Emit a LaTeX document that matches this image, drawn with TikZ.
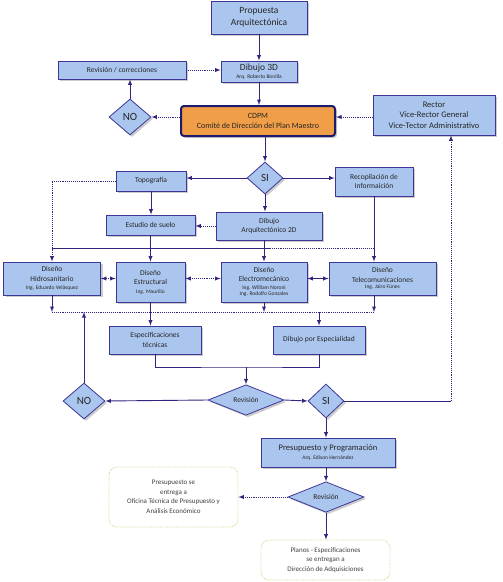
\documentclass[tikz,border=0pt]{standalone}
\usepackage{fontspec}
\setmainfont{Carlito}
\usetikzlibrary{shapes,arrows,positioning,shadows,calc}
\definecolor{boxblue}{RGB}{170,198,238}
\definecolor{boxline}{RGB}{62,54,150}
\definecolor{flowline}{RGB}{52,36,128}
\definecolor{cdpmorange}{RGB}{240,158,72}
\definecolor{cdpmline}{RGB}{30,26,110}
\definecolor{noteline}{RGB}{196,220,140}
\tikzstyle{Block} = [draw=boxline, fill=boxblue, rectangle, line width=0.8pt, inner sep=1pt, align=center, text=black!85, font=\fontsize{7.5}{9.5}\selectfont, drop shadow={shadow xshift=2pt,shadow yshift=-2pt,fill=black!40}]
\tikzstyle{Title} = [Block, font=\fontsize{9.5}{12}\selectfont]
\tikzstyle{Main} = [Block, fill=cdpmorange, draw=cdpmline, line width=2pt, rounded corners=3pt, font=\fontsize{8}{9.5}\selectfont]
\tikzstyle{Decision} = [Block, diamond, inner sep=0pt, font=\fontsize{11}{12}\selectfont]
\tikzstyle{Note} = [draw=noteline, densely dotted, fill=white, rectangle, rounded corners=8pt, line width=0.8pt, align=center, font=\fontsize{7}{9.5}\selectfont, text=black!75]
\tikzstyle{Line} = [draw=flowline, line width=0.9pt]
\tikzstyle{Arrow} = [Line, -latex]
\tikzstyle{Dotted} = [densely dotted]
\newcommand{\Who}[1]{{\fontsize{5.5}{7}\selectfont #1}}

\begin{document}
\begin{tikzpicture}[x=1pt, y=-1pt]
    \useasboundingbox (0,0) rectangle (503,582);
    % top part
    \node[Title, minimum width=96, minimum height=33]  (propuesta)  at (259,17.5)  {Propuesta\\Arquitectónica};
    \node[Title, minimum width=76, minimum height=21]  (dibujo3d)   at (259,71.5)  {Dibujo 3D\\[-4pt]\Who{Arq. Roberto Bonilla}};
    \node[Block, minimum width=128, minimum height=18] (revcorr)    at (122,70)    {Revisión / correcciones};
    \node[Decision, minimum width=42, minimum height=36] (no1)     at (130,117)   {NO};
    \node[Main, minimum width=154, minimum height=30]  (cdpm)       at (258,121)   {CDPM\\Comité de Dirección del Plan Maestro};
    \node[Block, font=\fontsize{8.5}{10.5}\selectfont, minimum width=122, minimum height=40] (rector) at (434,115) {Rector\\Vice-Rector General\\Vice-Tector Administrativo};
    \node[Decision, minimum width=36, minimum height=32] (si1)     at (265,178)   {SI};
    \node[Block, minimum width=70, minimum height=20]  (topo)       at (151,181)   {Topografía};
    \node[Block, minimum width=78, minimum height=29]  (recop)      at (374,181.5) {Recopilación de\\Informaición};
    \node[Block, minimum width=89, minimum height=20]  (estudio)    at (150.5,225) {Estudio de suelo};
    \node[Block, minimum width=106, minimum height=28] (dibujo2d)   at (269,226)   {Dibujo\\Arquitectónico 2D};
    % design row
    \node[Block, minimum width=97, minimum height=33]  (hidro)      at (52,278.5)  {Diseño\\Hidrosanitario\\[-1pt]\Who{Ing. Eduardo Velásquez}};
    \node[Block, minimum width=69, minimum height=40]  (estructural) at (150.5,282) {Diseño\\Estructural\\[-1pt]\Who{Ing. Maurilio}};
    \node[Block, minimum width=86, minimum height=40]  (electro)    at (264,282)   {Diseño\\Electromecánico\\[-2pt]\Who{Ing. William Noroni}\\[-3pt]\Who{Ing. Rodolfo Gonzales}};
    \node[Block, minimum width=107, minimum height=33] (telecom)    at (382.5,278.5) {Diseño\\Telecomunicaciones\\[-3pt]\Who{Ing. Jairo Fúnes}};
    \node[Block, minimum width=92, minimum height=28]  (espec)      at (155,340)   {Especificaciones\\técnicas};
    \node[Block, minimum width=92, minimum height=28]  (dibujoesp)  at (319,340)   {Dibujo por Especialidad};
    % review part
    \node[Decision, font=\fontsize{7.5}{9}\selectfont, minimum width=76, minimum height=30] (rev1) at (246,400) {Revisión};
    \node[Decision, minimum width=42, minimum height=36] (no2)     at (84,401)    {NO};
    \node[Decision, minimum width=36, minimum height=34] (si2)     at (326,401)   {SI};
    \node[Block, font=\fontsize{8.5}{10.5}\selectfont, minimum width=134, minimum height=29] (presup) at (328,452.5) {Presupuesto y Programación\\[-2pt]\Who{Arq. Edison Hernández}};
    \node[Decision, font=\fontsize{7.5}{9}\selectfont, minimum width=76, minimum height=30] (rev2) at (326,497) {Revisión};
    \node[Note, minimum width=129, minimum height=60]  (leftnote)   at (173.5,497) {Presupuesto se\\entrega a\\Oficina Técnica de Presupuesto y\\Análisis Económico};
    \node[Note, minimum width=129, minimum height=40]  (bottomnote) at (325.5,560) {Planos - Especificaciones\\se entregan a\\Dirección de Adquisiciones};

    \coordinate (linkL)   at (hidro.north |- 0,248);
    \coordinate (linkM)   at (270,248);
    \coordinate (linkR)   at (recop.south |- 0,248);
    \coordinate (busL)    at (hidro.south |- 0,312);
    \coordinate (busR)    at (recop.south |- 0,312);
    \coordinate (join)    at (rev1 |- 0,367);
    \coordinate (rectorIn) at ($(rector.south)+(17,0)$);
    \coordinate (corner)  at (rectorIn |- si2.east);

    \draw[Arrow] (propuesta) -- (dibujo3d);
    \draw[Arrow] (dibujo3d.south) -- (dibujo3d.south |- cdpm.north);
    \draw[Arrow, Dotted] (cdpm.west |- no1.east) -- (no1.east);
    \draw[Arrow] (no1) -- (no1 |- revcorr.south);
    \draw[Arrow, Dotted] (revcorr.east) -- (revcorr.east -| dibujo3d.west);
    \draw[Arrow, Dotted] (rector.west |- no1) -- (cdpm.east |- no1);
    \draw[Arrow] (si1 |- cdpm.south) -- (si1);
    \draw[Arrow] (si1.west) -- (si1.west -| topo.east);
    \draw[Arrow] (si1.east) -- (si1.east -| recop.west);
    \draw[Arrow] (si1.south) -- (si1.south |- dibujo2d.north);
    \draw[Arrow] (topo.south) -- (topo.south |- estudio.north);
    \draw[Arrow, Dotted] (dibujo2d.west) -- (dibujo2d.west -| estudio.east);
    \draw[Arrow, Dotted] (topo.west) -| (hidro.north);
    \draw[Arrow] (recop.south) -- (recop.south |- telecom.north);
    \draw[Arrow] (estudio.south) -- (estudio.south |- estructural.north);
    \draw[Arrow] (electro |- dibujo2d.south) -- (electro.north);
    \draw[Line] (linkL) -- (linkM);
    \draw[Line, Dotted] (linkM) -- (linkR);
    \draw[Line, latex-latex, Dotted] (hidro.east) -- (hidro.east -| estructural.west);
    \draw[Line, latex-latex, Dotted] (hidro.east -| estructural.east) -- (hidro.east -| electro.west);
    \draw[Line, latex-latex] (telecom.west -| electro.east) -- (telecom.west);
    % bus below the design row
    \draw[Line, Dotted] (busL) -- (busR);
    \draw[Arrow] (hidro.south) -- (busL);
    \draw[Arrow] (electro.south) -- (electro.south |- busL);
    \draw[Arrow] (recop.south |- telecom.south) -- (busR);
    \draw[Arrow] (estructural.south) -- (estructural.south |- espec.north);
    \draw[Arrow] (dibujoesp.north |- busL) -- (dibujoesp.north);
    \draw[Arrow] (no2) -- (no2 |- busL);
    \draw[Line] (espec.south) |- (join) -| (dibujoesp.south);
    \draw[Arrow] (join) -- (rev1.north);
    \draw[Arrow] (rev1.west) -- (no2.east);
    \draw[Arrow] (rev1.east) -- (si2.west);
    \draw[Line] (si2.east) -- (corner);
    \draw[Arrow, Dotted] (corner) -- (rectorIn);
    \draw[Arrow] (si2) -- (si2 |- presup.north);
    \draw[Arrow] (presup.south -| rev2) -- (rev2);
    \draw[Arrow, Dotted] (rev2.west) -- (rev2.west -| leftnote.east);
    \draw[Arrow] (rev2.south) -- (rev2.south |- bottomnote.north);
\end{tikzpicture}
\end{document}
